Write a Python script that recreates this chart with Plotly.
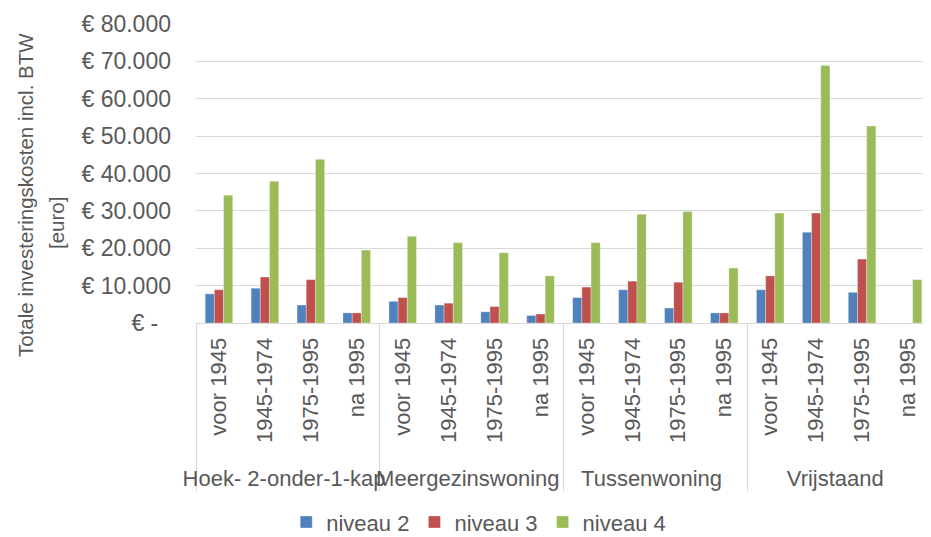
import plotly.graph_objects as go

groups = ["Hoek- 2-onder-1-kap", "Meergezinswoning", "Tussenwoning", "Vrijstaand"]
periods = ["voor 1945", "1945-1974", "1975-1995", "na 1995"]

niveau2 = [7800, 9300, 4800, 2700,
           5800, 4800, 3000, 2000,
           6800, 8900, 4000, 2700,
           8900, 24300, 8200, 0]
niveau3 = [8900, 12300, 11600, 2700,
           6800, 5300, 4400, 2400,
           9600, 11200, 10900, 2700,
           12600, 29400, 17100, 0]
niveau4 = [34200, 37900, 43800, 19500,
           23200, 21500, 18800, 12600,
           21500, 29100, 29800, 14700,
           29400, 68900, 52700, 11600]

series_names = ["niveau 2", "niveau 3", "niveau 4"]
colors = ["#4F81BD", "#C0504D", "#9BBB59"]

y_tickvals = [0, 10000, 20000, 30000, 40000, 50000, 60000, 70000, 80000]
y_ticktext = ["€ -\u00a0\u00a0", "€ 10.000", "€ 20.000", "€ 30.000", "€ 40.000",
              "€ 50.000", "€ 60.000", "€ 70.000", "€ 80.000"]

# a leading non-breaking space only pads the rotated label box (pushes group labels down)
PAD = "\u00a0"
x_outer = [g for g in groups for _ in periods]
x_inner = [PAD + p for _ in groups for p in periods]

FONT = "Liberation Sans"
GRAY = "#595959"

fig = go.Figure()
for name, vals, col in zip(series_names, [niveau2, niveau3, niveau4], colors):
    fig.add_trace(go.Bar(
        name=name, x=[x_outer, x_inner], y=vals,
        marker=dict(color=col, line=dict(color="rgba(255,255,255,0.6)", width=0.5)),
    ))

fig.update_layout(
    width=923, height=529,
    barmode="group", bargap=0.4, bargroupgap=0,
    plot_bgcolor="white", paper_bgcolor="white",
    margin=dict(l=188, r=0, t=16, b=214),
    font=dict(family=FONT, size=20, color=GRAY),
    showlegend=True,
    legend=dict(orientation="h", xref="container", yref="container",
                x=0.51, xanchor="center", y=0.028, yanchor="middle",
                font=dict(size=22, color=GRAY),
                traceorder="normal"),
)

fig.update_yaxes(
    range=[0, 80000], tickvals=y_tickvals, ticktext=y_ticktext,
    showgrid=True, gridcolor="#D9D9D9", gridwidth=1,
    zeroline=False, showline=False, ticks="",
    ticklabelstandoff=24, automargin=False,
    tickfont=dict(family=FONT, size=23, color=GRAY),
)
fig.update_xaxes(
    type="multicategory",
    showline=True, linecolor="#D9D9D9", linewidth=1,
    tickangle=-90, ticks="", automargin=False,
    ticklabelstandoff=5,
    showdividers=True, dividercolor="#D9D9D9", dividerwidth=1,
    tickfont=dict(family=FONT, size=22, color=GRAY),
)

fig.add_annotation(
    text="Totale investeringskosten incl. BTW", textangle=-90,
    xref="paper", yref="paper", x=0, y=0.5,
    xshift=-184, yshift=-22, showarrow=False,
    font=dict(family=FONT, size=20.5, color=GRAY),
)
fig.add_annotation(
    text="[euro]", textangle=-90,
    xref="paper", yref="paper", x=0, y=0.5,
    xshift=-153, yshift=-50, showarrow=False,
    font=dict(family=FONT, size=20.5, color=GRAY),
)

fig.write_html("out.html")
